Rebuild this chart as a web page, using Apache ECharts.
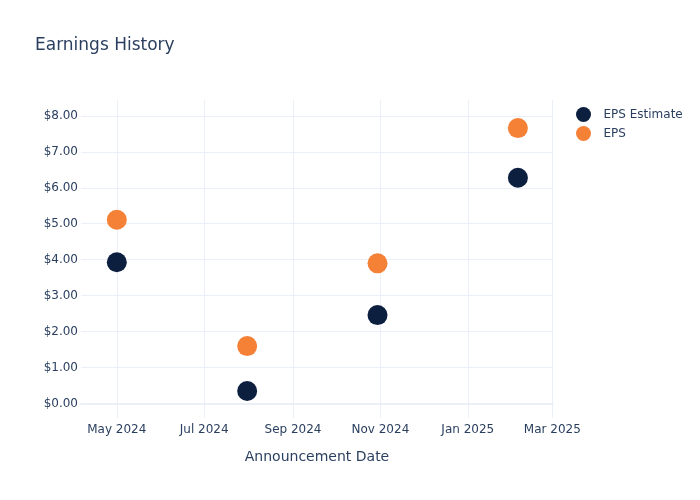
<!DOCTYPE html>
<html>
<head>
<meta charset="utf-8">
<script src="https://cdn.jsdelivr.net/npm/echarts@6/dist/echarts.min.js"></script>
<style>html,body{margin:0;padding:0;background:#fff;}#chart{width:700px;height:500px;}</style>
</head>
<body>
<div id="chart"></div>
<script>
var dates = ['2024-05-01', '2024-07-31', '2024-10-30', '2025-02-05'];
var epsEstimate = [3.93, 0.35, 2.46, 6.28];
var eps = [5.11, 1.60, 3.90, 7.66];
var seriesNames = ['EPS Estimate', 'EPS'];
var monthNames = ['Jan','Feb','Mar','Apr','May','Jun','Jul','Aug','Sep','Oct','Nov','Dec'];

var FONT = 'DejaVu Sans, Verdana, Arial, sans-serif';
var TXT = '#2a3f5f';
var GRID = '#ebf0f8';
var T = 'rgba(0,0,0,0)';

function pairs(vals) {
  return dates.map(function (d, i) { return [d, vals[i]]; });
}

var chart = echarts.init(document.getElementById('chart'));
chart.setOption({
  backgroundColor: '#fff',
  animation: false,
  textStyle: { fontFamily: FONT },
  title: {
    text: 'Earnings History',
    left: 35, top: 37, padding: 0,
    textStyle: { fontFamily: FONT, fontSize: 17, fontWeight: 'normal', color: TXT }
  },
  legend: {
    orient: 'vertical',
    left: 571, top: 102,
    itemWidth: 30, itemHeight: 15, itemGap: 4,
    icon: 'circle',
    data: seriesNames,
    textStyle: { fontFamily: FONT, fontSize: 12, color: TXT, padding: [0, 0, 0, 0] }
  },
  grid: { left: 81, right: 147, top: 100, bottom: 82, containLabel: false },
  xAxis: {
    type: 'time',
    min: '2024-04-06',
    max: '2025-03-01 12:00',
    splitNumber: 5,
    name: 'Announcement Date',
    nameLocation: 'middle',
    nameGap: 32,
    nameTextStyle: { fontFamily: FONT, fontSize: 14, color: TXT },
    axisLine: { show: true, onZero: true, lineStyle: { color: GRID, width: 2 } },
    axisTick: { show: false },
    axisLabel: {
      margin: 6,
      fontFamily: FONT, fontSize: 12, color: TXT,
      hideOverlap: false,
      formatter: function (v) {
        var d = new Date(v);
        return monthNames[d.getMonth()] + ' ' + d.getFullYear();
      }
    },
    splitLine: { show: true, showMinLine: false, showMaxLine: false, lineStyle: { color: GRID, width: 1 } },
    minorTick: { show: false }
  },
  yAxis: {
    type: 'value',
    min: -0.4,
    max: 8.44,
    interval: 0.2,
    axisLine: { show: false },
    axisTick: { show: false },
    axisLabel: {
      margin: 3,
      fontFamily: FONT, fontSize: 12, color: TXT,
      formatter: function (v) {
        if (Math.abs(v - Math.round(v)) > 1e-6 || v < -1e-6 || v > 8.0001) return '';
        return '$' + Math.round(v).toFixed(2);
      }
    },
    splitLine: { show: true, lineStyle: { color: [T, T, GRID, T, T], width: 1 } }
  },
  series: [
    {
      name: seriesNames[0], type: 'scatter', symbol: 'circle', symbolSize: 20,
      itemStyle: { color: '#0c1f3f', opacity: 1 },
      data: pairs(epsEstimate), z: 3
    },
    {
      name: seriesNames[1], type: 'scatter', symbol: 'circle', symbolSize: 20,
      itemStyle: { color: '#f58137', opacity: 1 },
      data: pairs(eps), z: 4
    }
  ]
});
</script>
</body>
</html>
